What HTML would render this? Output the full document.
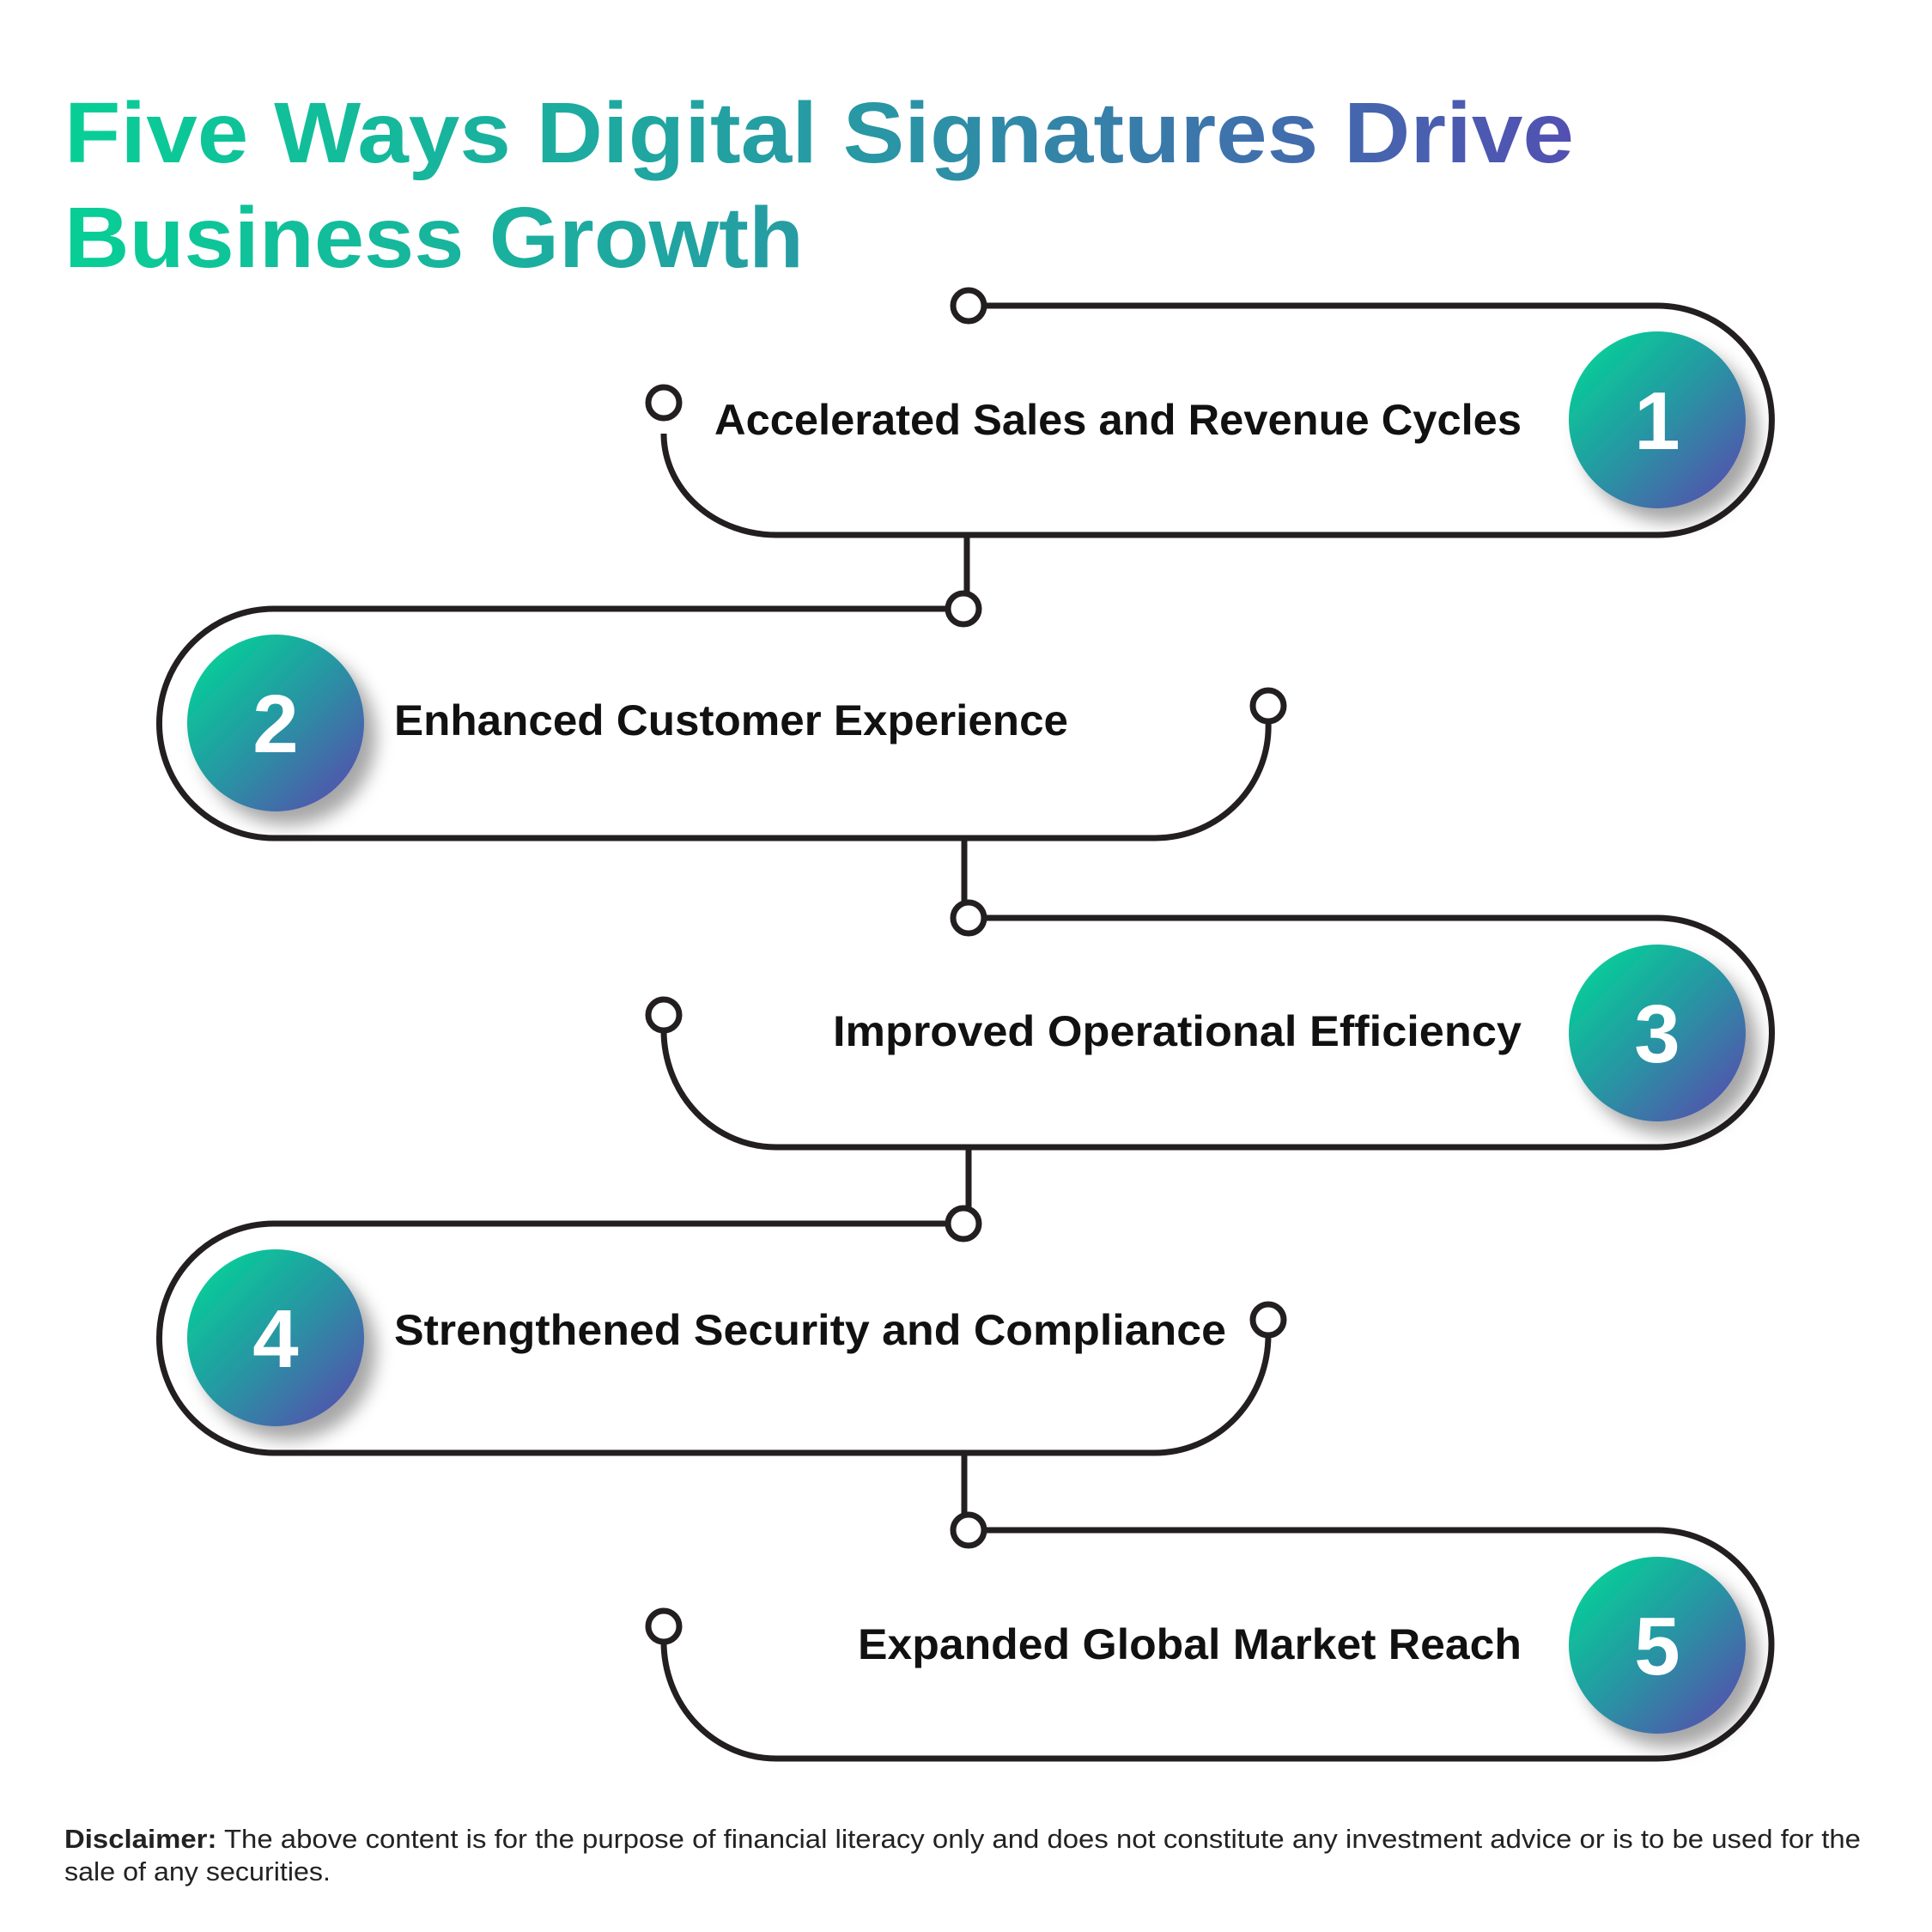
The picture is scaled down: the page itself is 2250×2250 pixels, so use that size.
<!DOCTYPE html>
<html><head><meta charset="utf-8"><style>
html,body{margin:0;padding:0;background:#fff;}
svg{display:block;}
text{font-family:"Liberation Sans",sans-serif;}
</style></head><body>
<svg width="2250" height="2250" viewBox="0 0 2250 2250" xmlns="http://www.w3.org/2000/svg">
<defs>
<linearGradient id="tg" gradientUnits="userSpaceOnUse" x1="75" y1="0" x2="1833" y2="0">
<stop offset="0" stop-color="#08cf96"/><stop offset="0.55" stop-color="#2a95a5"/><stop offset="1" stop-color="#5250b2"/>
</linearGradient>
<linearGradient id="bg" x1="0" y1="0" x2="1" y2="1">
<stop offset="0.1" stop-color="#06cf98"/><stop offset="0.5" stop-color="#2796a3"/><stop offset="0.9" stop-color="#5254ad"/>
</linearGradient>
<filter id="sh" x="-50%" y="-50%" width="200%" height="200%">
<feDropShadow dx="14" dy="16" stdDeviation="10" flood-color="#000" flood-opacity="0.35"/>
</filter>
</defs>

<text x="75" y="189" font-size="100" font-weight="bold" fill="url(#tg)" textLength="1758" lengthAdjust="spacingAndGlyphs">Five Ways Digital Signatures Drive</text>
<text x="75" y="311" font-size="100" font-weight="bold" fill="url(#tg)" textLength="861" lengthAdjust="spacingAndGlyphs">Business Growth</text>

<g fill="none" stroke="#231f20" stroke-width="7">
<!-- block1 -->
<path d="M1146,356 H1930 A133.5,133.5 0 0 1 1930,623 H904 A131,118 0 0 1 773,505"/>
<path d="M1126,623 V691"/>
<!-- block2 -->
<path d="M1104,709 H319 A133.5,133.5 0 0 0 319,976 H1345 A132,130 0 0 0 1477,840"/>
<path d="M1123,976 V1051"/>
<!-- block3 -->
<path d="M1146,1069 H1930 A133.5,133.5 0 0 1 1930,1336 H904 A131,136 0 0 1 773,1200"/>
<path d="M1128,1336 V1407"/>
<!-- block4 -->
<path d="M1104,1425 H319 A133.5,133.5 0 0 0 319,1692 H1345 A132,137 0 0 0 1477,1555"/>
<path d="M1123,1692 V1764"/>
<!-- block5 -->
<path d="M1146,1782 H1930 A133,133 0 0 1 1930,2048 H904 A131,136 0 0 1 773,1912"/>
</g>
<g fill="#fff" stroke="#231f20" stroke-width="7">
<circle cx="1128" cy="356" r="18"/>
<circle cx="773" cy="469" r="18"/>
<circle cx="1122" cy="709" r="18"/>
<circle cx="1477" cy="822" r="18"/>
<circle cx="1128" cy="1069" r="18"/>
<circle cx="773" cy="1182" r="18"/>
<circle cx="1122" cy="1425" r="18"/>
<circle cx="1477" cy="1537" r="18"/>
<circle cx="1128" cy="1782" r="18"/>
<circle cx="773" cy="1894" r="18"/>
</g>

<g filter="url(#sh)" fill="url(#bg)">
<circle cx="1930" cy="489" r="103"/>
<circle cx="321" cy="842" r="103"/>
<circle cx="1930" cy="1203" r="103"/>
<circle cx="321" cy="1558" r="103"/>
<circle cx="1930" cy="1916" r="103"/>
</g>
<g fill="#fff" font-size="96" font-weight="bold" text-anchor="middle">
<text x="1930" y="523">1</text>
<text x="321" y="876">2</text>
<text x="1930" y="1237">3</text>
<text x="321" y="1592">4</text>
<text x="1930" y="1950">5</text>
</g>

<g fill="#111" font-size="50" font-weight="bold">
<text x="832" y="506" textLength="940" lengthAdjust="spacingAndGlyphs">Accelerated Sales and Revenue Cycles</text>
<text x="459" y="856" textLength="785" lengthAdjust="spacingAndGlyphs">Enhanced Customer Experience</text>
<text x="970" y="1218" textLength="802" lengthAdjust="spacingAndGlyphs">Improved Operational Efficiency</text>
<text x="459" y="1566" textLength="969" lengthAdjust="spacingAndGlyphs">Strengthened Security and Compliance</text>
<text x="999" y="1932" textLength="773" lengthAdjust="spacingAndGlyphs">Expanded Global Market Reach</text>
</g>

<text x="75" y="2152" font-size="31" fill="#222" textLength="2092" lengthAdjust="spacingAndGlyphs"><tspan font-weight="bold">Disclaimer:</tspan> The above content is for the purpose of financial literacy only and does not constitute any investment advice or is to be used for the</text>
<text x="75" y="2190" font-size="31" fill="#222" textLength="310" lengthAdjust="spacingAndGlyphs">sale of any securities.</text>
</svg>
</body></html>
